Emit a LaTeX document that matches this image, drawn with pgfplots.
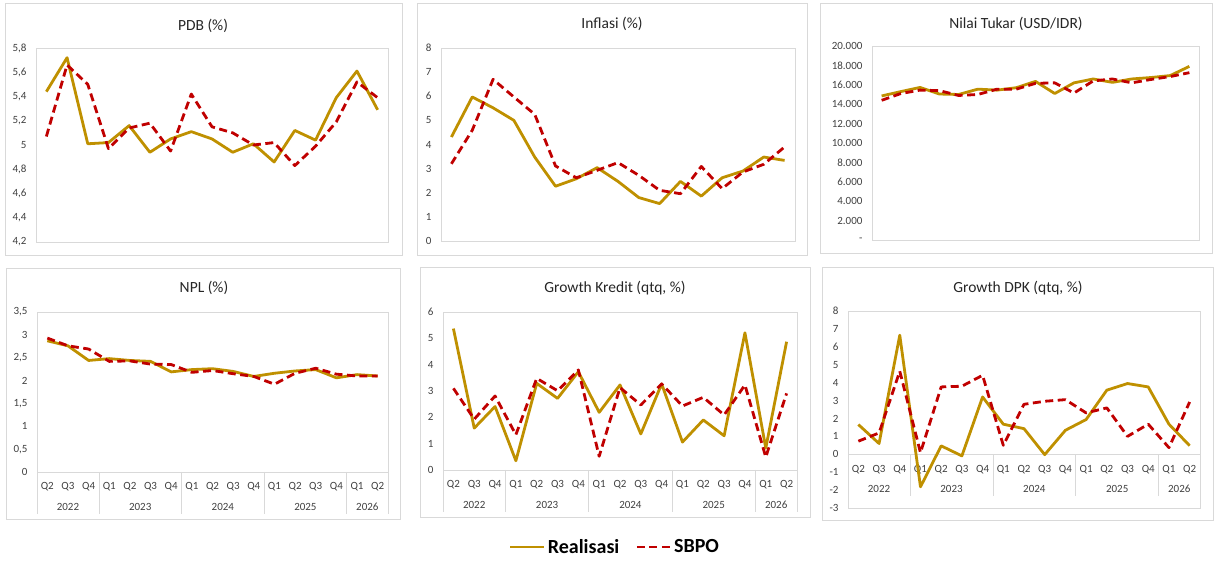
\documentclass[border=0pt]{standalone}
\usepackage{pgfplots}
\pgfplotsset{compat=1.18}
\usepackage{pgfplotstable}
\usepackage{fontspec}
\setmainfont{Carlito}
\definecolor{gold}{HTML}{BF9000}
\definecolor{sbpored}{HTML}{C00000}
\definecolor{frame}{HTML}{D9D9D9}
\definecolor{tickc}{HTML}{404040}
\definecolor{ttlc}{HTML}{262626}

\pgfplotstableread{
i pdbR pdbS infR infS kursR kursS nplR nplS krR krS dpkR dpkS
0 5.44 5.07 4.31 3.20 14850 14400 2.87 2.93 5.37 3.10 1.66 0.73
1 5.72 5.66 5.97 4.59 15300 15100 2.76 2.76 1.59 1.93 0.60 1.19
2 5.01 5.50 5.52 6.70 15730 15450 2.44 2.69 2.41 2.81 6.65 4.64
3 5.02 4.97 5.00 5.97 15050 15400 2.48 2.42 0.35 1.34 -1.82 0.09
4 5.16 5.14 3.48 5.25 15000 14900 2.44 2.43 3.29 3.48 0.47 3.76
5 4.94 5.18 2.27 3.11 15550 15000 2.42 2.36 2.72 3.01 -0.09 3.80
6 5.05 4.95 2.58 2.62 15450 15550 2.19 2.35 3.73 3.80 3.20 4.41
7 5.11 5.42 3.04 2.93 15700 15550 2.24 2.18 2.19 0.52 1.68 0.50
8 5.05 5.15 2.47 3.25 16350 16150 2.26 2.22 3.23 3.13 1.43 2.79
9 4.94 5.10 1.80 2.72 15100 16200 2.20 2.15 1.37 2.47 -0.02 2.96
10 5.01 5.00 1.55 2.10 16200 15150 2.09 2.09 3.27 3.27 1.34 3.05
11 4.86 5.02 2.47 1.96 16600 16400 2.16 1.92 1.06 2.43 1.94 2.31
12 5.12 4.83 1.86 3.09 16250 16600 2.21 2.16 1.90 2.76 3.58 2.59
13 5.04 4.99 2.62 2.17 16600 16200 2.24 2.27 1.30 2.09 3.95 1.00
14 5.39 5.19 2.90 2.86 16750 16550 2.06 2.14 5.21 3.23 3.76 1.68
15 5.61 5.52 3.48 3.18 16950 16850 2.13 2.10 0.83 0.49 1.68 0.37
16 5.29 5.39 3.34 3.90 17900 17250 2.10 2.10 4.87 2.91 0.48 2.92
}\data

\pgfplotsset{
  panel/.style={scale only axis, anchor=south west, xmin=-0.5, xmax=16.5,
    xtick=\empty, axis line style={draw=frame, line width=0.75pt},
    major tick length=0pt, clip=false, scaled y ticks=false,
    tick label style={font=\fontsize{11}{13}\selectfont, text=tickc},
    yticklabel style={xshift=-6pt}},
  real/.style={draw=gold, line width=2.8pt, line join=round, mark=none},
  sbpo/.style={draw=sbpored, line width=2.8pt, line join=round, dash pattern=on 8pt off 4.5pt, mark=none},
}
\tikzset{
  ttl/.style={font=\fontsize{15.5}{18}\selectfont, text=ttlc, inner sep=0pt, anchor=center},
  qlab/.style={font=\fontsize{11}{13}\selectfont, text=tickc, inner sep=0pt, anchor=center, yshift=-15pt},
  ylab/.style={font=\fontsize{11}{13}\selectfont, text=tickc, inner sep=0pt, anchor=center, yshift=-35pt},
  box/.style={draw=frame, line width=0.75pt},
}
\newcommand\cataxis{%
  \draw[box] (axis cs:-0.5,0) -- (axis cs:16.5,0);
  \draw[box] (axis cs:-0.5,0) -- ++(0pt,-42pt);
  \draw[box] (axis cs:2.5,0) -- ++(0pt,-42pt);
  \draw[box] (axis cs:6.5,0) -- ++(0pt,-42pt);
  \draw[box] (axis cs:10.5,0) -- ++(0pt,-42pt);
  \draw[box] (axis cs:14.5,0) -- ++(0pt,-42pt);
  \draw[box] (axis cs:16.5,0) -- ++(0pt,-42pt);
  \node[qlab] at (axis cs:0,0) {Q2};
  \node[qlab] at (axis cs:1,0) {Q3};
  \node[qlab] at (axis cs:2,0) {Q4};
  \node[qlab] at (axis cs:3,0) {Q1};
  \node[qlab] at (axis cs:4,0) {Q2};
  \node[qlab] at (axis cs:5,0) {Q3};
  \node[qlab] at (axis cs:6,0) {Q4};
  \node[qlab] at (axis cs:7,0) {Q1};
  \node[qlab] at (axis cs:8,0) {Q2};
  \node[qlab] at (axis cs:9,0) {Q3};
  \node[qlab] at (axis cs:10,0) {Q4};
  \node[qlab] at (axis cs:11,0) {Q1};
  \node[qlab] at (axis cs:12,0) {Q2};
  \node[qlab] at (axis cs:13,0) {Q3};
  \node[qlab] at (axis cs:14,0) {Q4};
  \node[qlab] at (axis cs:15,0) {Q1};
  \node[qlab] at (axis cs:16,0) {Q2};
  \node[ylab] at (axis cs:1,0) {2022};
  \node[ylab] at (axis cs:4.5,0) {2023};
  \node[ylab] at (axis cs:8.5,0) {2024};
  \node[ylab] at (axis cs:12.5,0) {2025};
  \node[ylab] at (axis cs:15.5,0) {2026};
}

\begin{document}
\begin{tikzpicture}
\path[use as bounding box] (0pt,0pt) rectangle (1216pt,570pt);
% panel frames
\draw[box] (5pt,567pt) rectangle (402pt,315pt);
\draw[box] (417pt,567pt) rectangle (807pt,315pt);
\draw[box] (820pt,567pt) rectangle (1212pt,317pt);
\draw[box] (6pt,302pt) rectangle (400pt,51pt);
\draw[box] (420pt,303pt) rectangle (810pt,53pt);
\draw[box] (822pt,303pt) rectangle (1213pt,50pt);
% titles
\node[ttl] at (203pt,544pt) {PDB (\%)};
\node[ttl] at (612pt,546pt) {Inflasi (\%)};
\node[ttl] at (1016pt,546pt) {Nilai Tukar (USD/IDR)};
\node[ttl] at (204pt,282pt) {NPL (\%)};
\node[ttl] at (615pt,282pt) {Growth Kredit (qtq, \%)};
\node[ttl] at (1018pt,282pt) {Growth DPK (qtq, \%)};

% PDB
\begin{axis}[panel, at={(36pt,328pt)}, width=352pt, height=194pt,
  ymin=4.2, ymax=5.8, ytick={4.2,4.4,4.6,4.8,5,5.2,5.4,5.6,5.8},
  yticklabels={{4,2},{4,4},{4,6},{4,8},{5},{5,2},{5,4},{5,6},{5,8}}]
\addplot[real] table[x=i,y=pdbR]{\data};
\addplot[sbpo] table[x=i,y=pdbS]{\data};
\end{axis}

% Inflasi
\begin{axis}[panel, at={(441pt,329pt)}, width=354pt, height=193pt,
  ymin=0, ymax=8, ytick={0,1,2,3,4,5,6,7,8},
  yticklabels={0,1,2,3,4,5,6,7,8}]
\addplot[real] table[x=i,y=infR]{\data};
\addplot[sbpo] table[x=i,y=infS]{\data};
\end{axis}

% Nilai tukar
\begin{axis}[panel, at={(872pt,330pt)}, width=327pt, height=194pt,
  ymin=0, ymax=20000, ytick={0,2000,4000,6000,8000,10000,12000,14000,16000,18000,20000},
  yticklabels={{-},{2.000},{4.000},{6.000},{8.000},{10.000},{12.000},{14.000},{16.000},{18.000},{20.000}}]
\addplot[real] table[x=i,y=kursR]{\data};
\addplot[sbpo] table[x=i,y=kursS]{\data};
\end{axis}

% NPL
\begin{axis}[panel, at={(37pt,98pt)}, width=351pt, height=160pt,
  ymin=0, ymax=3.5, ytick={0,0.5,1,1.5,2,2.5,3,3.5},
  yticklabels={{0},{0,5},{1},{1,5},{2},{2,5},{3},{3,5}}]
\cataxis
\addplot[real] table[x=i,y=nplR]{\data};
\addplot[sbpo] table[x=i,y=nplS]{\data};
\end{axis}

% Growth Kredit
\begin{axis}[panel, at={(443pt,100pt)}, width=354pt, height=158pt,
  ymin=0, ymax=6, ytick={0,1,2,3,4,5,6},
  yticklabels={0,1,2,3,4,5,6},
  legend style={at={(0.486,-0.487)}, anchor=center, draw=none, fill=none,
    legend columns=2, font=\bfseries\fontsize{20}{23}\selectfont,
    /tikz/every even column/.append style={column sep=14pt}},
  legend image code/.code={\draw[#1] (0pt,0pt) -- (34pt,0pt);}]
\cataxis
\addplot[real] table[x=i,y=krR]{\data};
\addlegendentry{Realisasi}
\addplot[sbpo] table[x=i,y=krS]{\data};
\addlegendentry{SBPO}
\end{axis}

% Growth DPK
\begin{axis}[panel, at={(848pt,62pt)}, width=352pt, height=197pt,
  ymin=-3, ymax=8, ytick={-3,-2,-1,0,1,2,3,4,5,6,7,8},
  yticklabels={-3,-2,-1,0,1,2,3,4,5,6,7,8}]
\cataxis
\addplot[real] table[x=i,y=dpkR]{\data};
\addplot[sbpo] table[x=i,y=dpkS]{\data};
\end{axis}
\end{tikzpicture}
\end{document}
